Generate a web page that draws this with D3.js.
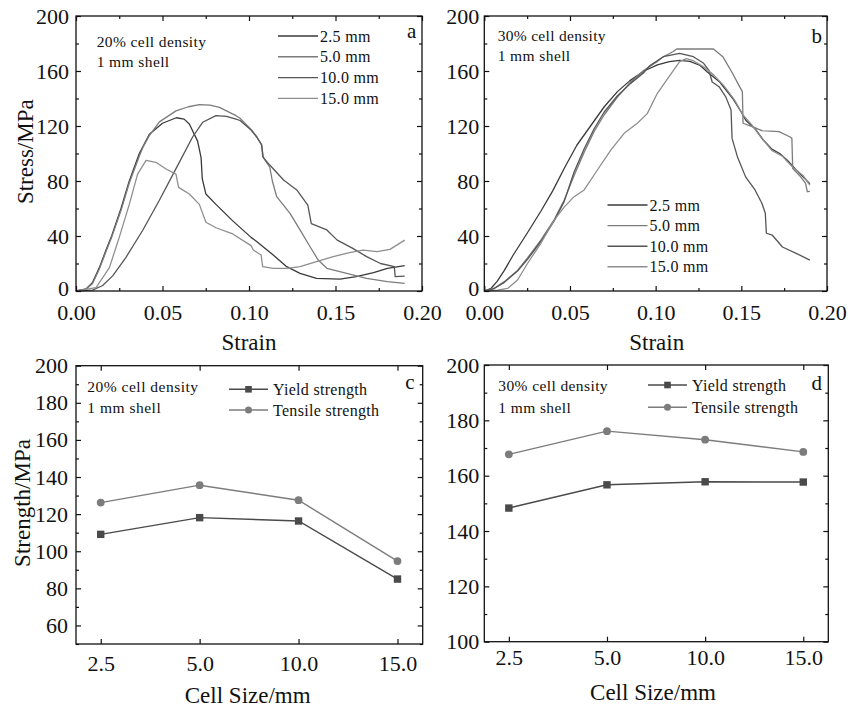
<!DOCTYPE html>
<html><head><meta charset="utf-8">
<script src="https://cdn.jsdelivr.net/npm/d3@7"></script>
<style>
body{margin:0;background:#fff}
svg{display:block}
text{font-family:"Liberation Serif","Tinos","Times New Roman","DejaVu Serif",serif;fill:#111}
</style>
</head><body><svg id="chart" width="851" height="708"></svg>
<script>
// ---------------- DATA ----------------
const sizeLabels = ["2.5 mm", "5.0 mm", "10.0 mm", "15.0 mm"];
const cellSizes = ["2.5", "5.0", "10.0", "15.0"];

// panel a: 20% cell density, [strain, stress MPa]
const a_25 = [[0,0],[0.0058,1.5],[0.0096,6.3],[0.0135,17],[0.0173,29.6],[0.0206,40],[0.026,60],[0.0308,80],[0.0366,100],[0.0424,114],[0.05,122],[0.058,126],[0.0625,125],[0.0655,121.5],[0.0703,109],[0.0723,97],[0.073,81.5],[0.0751,70.5],[0.0809,63],[0.0906,51],[0.1012,39],[0.1044,36],[0.114,26.2],[0.1218,17.7],[0.1295,12.8],[0.139,9.2],[0.1526,8.7],[0.162,10.4],[0.172,13.3],[0.18,16.5],[0.19,18.4]];
const a_50 = [[0,0],[0.0058,1.2],[0.0096,5.5],[0.0135,16],[0.0173,28.5],[0.0206,39],[0.026,58.5],[0.0308,78.5],[0.0366,98],[0.0385,104],[0.0424,113],[0.0482,123],[0.0578,131],[0.065,134],[0.0713,135.5],[0.0775,135.2],[0.0829,133.6],[0.0925,127.5],[0.0948,125.6],[0.1012,117.5],[0.1044,112.5],[0.1073,106],[0.1083,97],[0.112,90],[0.1135,80],[0.116,68.6],[0.1237,56.5],[0.1295,44.4],[0.1353,32.2],[0.14,22.5],[0.145,16.5],[0.1565,12.8],[0.168,9.2],[0.18,6.8],[0.19,5.6]];
const a_100 = [[0,0],[0.0096,0.7],[0.0154,4],[0.0212,11],[0.0289,24.5],[0.0385,44],[0.0482,66],[0.0578,89],[0.0674,112],[0.0732,122.7],[0.0809,127.5],[0.087,127],[0.0925,125],[0.0948,124],[0.1012,117],[0.1044,112],[0.1073,106.5],[0.108,97.5],[0.112,91.6],[0.12,80.7],[0.1276,73.5],[0.134,62.5],[0.136,49],[0.145,44.4],[0.151,37],[0.16,31],[0.168,25],[0.176,20],[0.184,17.7],[0.1845,10.4],[0.19,10.8]];
const a_150 = [[0,0],[0.0116,2.5],[0.0193,17],[0.025,39],[0.0308,63],[0.0356,85],[0.0405,95],[0.0462,93.6],[0.052,88.7],[0.0578,85],[0.0593,75.4],[0.0655,70.5],[0.0713,63],[0.0751,50],[0.0809,46],[0.0906,41.5],[0.1012,33],[0.1025,29.8],[0.107,26.2],[0.1079,17.7],[0.114,16.5],[0.1218,16.5],[0.1295,17.7],[0.139,21.3],[0.1487,25],[0.158,27.9],[0.166,29.8],[0.174,28.6],[0.1815,30.3],[0.19,37]];

// panel b: 30% cell density
const b_25 = [[0,0],[0.004,2],[0.0075,7],[0.0117,15],[0.0168,26],[0.025,42],[0.033,58],[0.04,73],[0.047,90],[0.054,106],[0.062,120],[0.07,134],[0.0777,145],[0.085,153],[0.0932,160],[0.101,164.4],[0.108,166.8],[0.114,167.8],[0.12,167],[0.126,164],[0.13,159.5],[0.1374,152],[0.145,140],[0.15,130],[0.1527,124],[0.158,118],[0.1627,110],[0.168,103],[0.1724,100],[0.177,95],[0.182,88],[0.186,83],[0.19,78]];
const b_50 = [[0,0],[0.0058,2],[0.0117,6.8],[0.0194,15],[0.0252,24],[0.033,37],[0.0408,52],[0.0466,66],[0.0524,84],[0.0583,101],[0.0641,116],[0.0699,128],[0.0777,141],[0.0854,152],[0.0932,160.5],[0.101,167],[0.104,170],[0.11,174],[0.1123,176],[0.1337,176],[0.1392,170.4],[0.145,158],[0.149,148.6],[0.1506,145],[0.151,122],[0.1564,119.5],[0.162,116.6],[0.172,115.9],[0.1785,112],[0.1795,111],[0.18,89],[0.1837,84.4],[0.1875,78.3],[0.1885,72.2],[0.19,72.5]];
const b_100 = [[0,0],[0.0058,1.8],[0.0117,6.3],[0.0194,14.5],[0.0252,23],[0.033,36],[0.0408,51],[0.0466,65],[0.0524,86.5],[0.0583,103.5],[0.0641,118],[0.0699,130],[0.0777,142],[0.0854,151],[0.0932,159],[0.0967,164],[0.1045,170.4],[0.114,172.8],[0.122,170.4],[0.128,165.6],[0.131,160.7],[0.133,152],[0.137,148.6],[0.141,141],[0.144,131.6],[0.1446,111],[0.1477,97.7],[0.1525,83],[0.158,73.5],[0.162,63.8],[0.164,56.5],[0.1646,42],[0.168,40.7],[0.174,32],[0.182,27.4],[0.19,22.5]];
const b_150 = [[0,0],[0.0078,0.7],[0.0136,1.9],[0.0194,8],[0.0252,20],[0.033,34.7],[0.0408,51.6],[0.0466,61],[0.0524,68.6],[0.0583,73.5],[0.066,88],[0.0738,102.5],[0.0816,114.7],[0.0893,122],[0.0951,129],[0.101,143.8],[0.1065,153.5],[0.114,166.8],[0.118,169],[0.122,167.5],[0.128,163],[0.134,157],[0.14,149],[0.146,139],[0.151,128],[0.156,121],[0.162,111],[0.168,102],[0.174,98],[0.18,90],[0.186,84],[0.19,77]];

// panels c, d: strength vs cell size
const yield20 = [109.1, 118.1, 116.3, 85.0];
const tensile20 = [126.2, 135.6, 127.5, 94.7];
const yield30 = [148.3, 156.7, 157.8, 157.7];
const tensile30 = [167.7, 176.1, 173.0, 168.6];

const strainTicks = [0, 0.05, 0.1, 0.15, 0.2];
const strainMinor = [0.025, 0.075, 0.125, 0.175];
const stressTicks = [0, 40, 80, 120, 160, 200];
const stressMinor = [20, 60, 100, 140, 180];
const strengthTicks20 = [60, 80, 100, 120, 140, 160, 180, 200];
const strengthMinor20 = [50, 70, 90, 110, 130, 150, 170, 190];
const strengthTicks30 = [100, 120, 140, 160, 180, 200];
const strengthMinor30 = [110, 130, 150, 170, 190];

// ---------------- DRAW ----------------
const svg = d3.select("#chart");
const FONT = '"Liberation Serif","Tinos","Times New Roman","DejaVu Serif",serif';
const curveColors = ["#3a3a3a", "#7c7c7c", "#555555", "#8e8e8e"];
const yieldColor = "#4a4a4a", tensileColor = "#7c7c7c";

function frameAxes(g, x, y, o) {
  const [X0, X1] = x.range();
  const [Y1, Y0] = y.range();
  const styl = s => s.attr("font-size", 22).attr("font-family", FONT)
    .call(s => s.select(".domain").remove())
    .call(s => s.selectAll("line").attr("stroke", "#111").attr("stroke-width", 1.2))
    .call(s => s.selectAll("text").attr("fill", "#111"));
  g.append("g").attr("transform", `translate(0,${Y1})`)
    .call(d3.axisBottom(x).tickValues(o.xTicks).tickFormat(o.xFmt).tickSize(-5).tickPadding(o.xPad)).call(styl);
  g.append("g").attr("transform", `translate(0,${Y0})`)
    .call(d3.axisTop(x).tickValues(o.xTicks).tickFormat("").tickSize(-5)).call(styl);
  if (o.xMinor) {
    g.append("g").attr("transform", `translate(0,${Y1})`)
      .call(d3.axisBottom(x).tickValues(o.xMinor).tickFormat("").tickSize(-3)).call(styl);
    g.append("g").attr("transform", `translate(0,${Y0})`)
      .call(d3.axisTop(x).tickValues(o.xMinor).tickFormat("").tickSize(-3)).call(styl);
  }
  g.append("g").attr("transform", `translate(${X0},0)`)
    .call(d3.axisLeft(y).tickValues(o.yTicks).tickFormat(d3.format("d")).tickSize(-5).tickPadding(o.yPad)).call(styl);
  g.append("g").attr("transform", `translate(${X1},0)`)
    .call(d3.axisRight(y).tickValues(o.yTicks).tickFormat("").tickSize(-5)).call(styl);
  g.append("g").attr("transform", `translate(${X0},0)`)
    .call(d3.axisLeft(y).tickValues(o.yMinor).tickFormat("").tickSize(-3)).call(styl);
  g.append("g").attr("transform", `translate(${X1},0)`)
    .call(d3.axisRight(y).tickValues(o.yMinor).tickFormat("").tickSize(-3)).call(styl);
  g.append("rect").attr("x", X0).attr("y", Y0).attr("width", X1 - X0).attr("height", Y1 - Y0)
    .attr("fill", "none").attr("stroke", "#111").attr("stroke-width", 1.3);
}

function txt(x, y, s, size, anchor, extra) {
  const t = svg.append("text").attr("x", x).attr("y", y).attr("font-size", size)
    .attr("font-family", FONT).attr("text-anchor", anchor || "start").text(s);
  if (extra) extra(t);
  return t;
}
function vtitle(cx, cy, s) {
  svg.append("text").attr("transform", `translate(${cx},${cy}) rotate(-90)`)
    .attr("font-family", FONT)
    .attr("text-anchor", "middle").attr("dy", "0.35em").attr("font-size", 23).text(s);
}

// ---- stress-strain panels ----
function stressPanel(box, series, o) {
  const x = d3.scaleLinear().domain([0, 0.2]).range([box.x0, box.x1]);
  const y = d3.scaleLinear().domain([0, 200]).range([box.y1, box.y0]);
  const g = svg.append("g");
  const line = d3.line().x(d => x(d[0])).y(d => y(d[1]));
  series.forEach((s, i) => {
    g.append("path").datum(s).attr("d", line).attr("fill", "none")
      .attr("stroke", curveColors[i]).attr("stroke-width", 1.3).attr("stroke-linejoin", "round");
  });
  frameAxes(g, x, y, {
    xTicks: strainTicks, xMinor: strainMinor, xFmt: d3.format(".2f"), xPad: 13,
    yTicks: stressTicks, yMinor: stressMinor, yPad: o.yPad
  });
  // nudge the "0" stress label up a touch so it clears the "0.00" strain label
  g.selectAll("text").filter(function () { return this.textContent === "0"; }).attr("dy", "0.2em");
  sizeLabels.forEach((lab, i) => {
    const ly = o.legY + i * o.legStep;
    svg.append("line").attr("x1", o.legX).attr("x2", o.legX + 40).attr("y1", ly).attr("y2", ly)
      .attr("stroke", curveColors[i]).attr("stroke-width", 1.4);
    txt(o.legX + 42, ly, lab, 16, "start", t => t.attr("dy", "0.35em").attr("letter-spacing", 0.3));
  });
}

const boxA = {x0: 76, x1: 422, y0: 16, y1: 291};
const boxB = {x0: 484.3, x1: 827, y0: 16, y1: 291};
stressPanel(boxA, [a_25, a_50, a_100, a_150], {yPad: 7, legX: 278, legY: 36, legStep: 20.8});
stressPanel(boxB, [b_25, b_50, b_100, b_150], {yPad: 5, legX: 607.5, legY: 205, legStep: 20.6});

txt(96.7, 46.5, "20% cell density", 15.5, "start", t => t.attr("letter-spacing", 0.4));
txt(96.7, 66.5, "1 mm shell", 15.5, "start", t => t.attr("letter-spacing", 0.4));
txt(497.7, 40.5, "30% cell density", 15.5, "start", t => t.attr("letter-spacing", 0.3));
txt(497.7, 60.5, "1 mm shell", 15.5, "start", t => t.attr("letter-spacing", 0.4));
txt(411.7, 38.3, "a", 21, "middle");
txt(816.7, 43.3, "b", 21, "middle");
vtitle(25, 151.7, "Stress/MPa");
txt(249, 341.7, "Strain", 23, "middle", t => t.attr("dy", "0.35em"));
txt(656.7, 341.7, "Strain", 23, "middle", t => t.attr("dy", "0.35em"));

// ---- strength panels ----
function strengthPanel(box, yDom, yTicks, yMinor, ys, ts, o) {
  const x = d3.scaleLinear().domain([-0.25, 3.255]).range([box.x0, box.x1]);
  const y = d3.scaleLinear().domain(yDom).range([box.y1, box.y0]);
  const g = svg.append("g");
  const idx = d3.range(cellSizes.length);
  frameAxes(g, x, y, {
    xTicks: idx, xMinor: null, xFmt: i => cellSizes[i], xPad: o.xPad,
    yTicks: yTicks, yMinor: yMinor, yPad: o.yPad
  });
  const line = d3.line().x(d => x(d[0])).y(d => y(d[1]));
  const yd = idx.map(i => [i, ys[i]]), td = idx.map(i => [i, ts[i]]);
  g.append("path").datum(td).attr("d", line).attr("fill", "none").attr("stroke", tensileColor).attr("stroke-width", 1.4);
  g.append("path").datum(yd).attr("d", line).attr("fill", "none").attr("stroke", yieldColor).attr("stroke-width", 1.4);
  g.selectAll(".sq").data(yd).join("rect").attr("x", d => x(d[0]) - 3.7).attr("y", d => y(d[1]) - 3.7)
    .attr("width", 7.4).attr("height", 7.4).attr("fill", yieldColor);
  g.selectAll(".ci").data(td).join("circle").attr("cx", d => x(d[0])).attr("cy", d => y(d[1]))
    .attr("r", 3.9).attr("fill", tensileColor);
  const names = ["Yield strength", "Tensile strength"];
  names.forEach((nm, i) => {
    const ly = o.legY + i * o.legStep;
    const col = i === 0 ? yieldColor : tensileColor;
    svg.append("line").attr("x1", o.legX).attr("x2", o.legX + 39).attr("y1", ly).attr("y2", ly)
      .attr("stroke", col).attr("stroke-width", 1.4);
    if (i === 0) svg.append("rect").attr("x", o.legX + 19.5 - 3.3).attr("y", ly - 3.3).attr("width", 6.6).attr("height", 6.6).attr("fill", col);
    else svg.append("circle").attr("cx", o.legX + 19.5).attr("cy", ly).attr("r", 3.5).attr("fill", col);
    txt(o.legX + 44, ly, nm, 16, "start", t => t.attr("dy", "0.35em").attr("letter-spacing", 0.3));
  });
}

const boxC = {x0: 76, x1: 422.7, y0: 365.7, y1: 644};
const boxD = {x0: 484.3, x1: 828.3, y0: 365, y1: 641.7};
strengthPanel(boxC, [50, 200], strengthTicks20, strengthMinor20, yield20, tensile20,
  {xPad: 11, yPad: 8, legX: 229, legY: 389.3, legStep: 20.7});
strengthPanel(boxD, [100, 200], strengthTicks30, strengthMinor30, yield30, tensile30,
  {xPad: 8, yPad: 5, legX: 648, legY: 385, legStep: 22.3});

txt(87.3, 392.3, "20% cell density", 15.5, "start", t => t.attr("letter-spacing", 0.5));
txt(87.3, 413.3, "1 mm shell", 15.5, "start", t => t.attr("letter-spacing", 0.5));
txt(498.3, 390.7, "30% cell density", 15.5, "start", t => t.attr("letter-spacing", 0.4));
txt(498.3, 413.3, "1 mm shell", 15.5, "start", t => t.attr("letter-spacing", 0.4));
txt(410, 389.3, "c", 21, "middle");
txt(816.7, 390, "d", 21, "middle");
vtitle(21.7, 503, "Strength/MPa");
txt(247.7, 695, "Cell Size/mm", 23, "middle", t => t.attr("dy", "0.35em"));
txt(653, 691.7, "Cell Size/mm", 23, "middle", t => t.attr("dy", "0.35em"));
</script>
</body></html>
